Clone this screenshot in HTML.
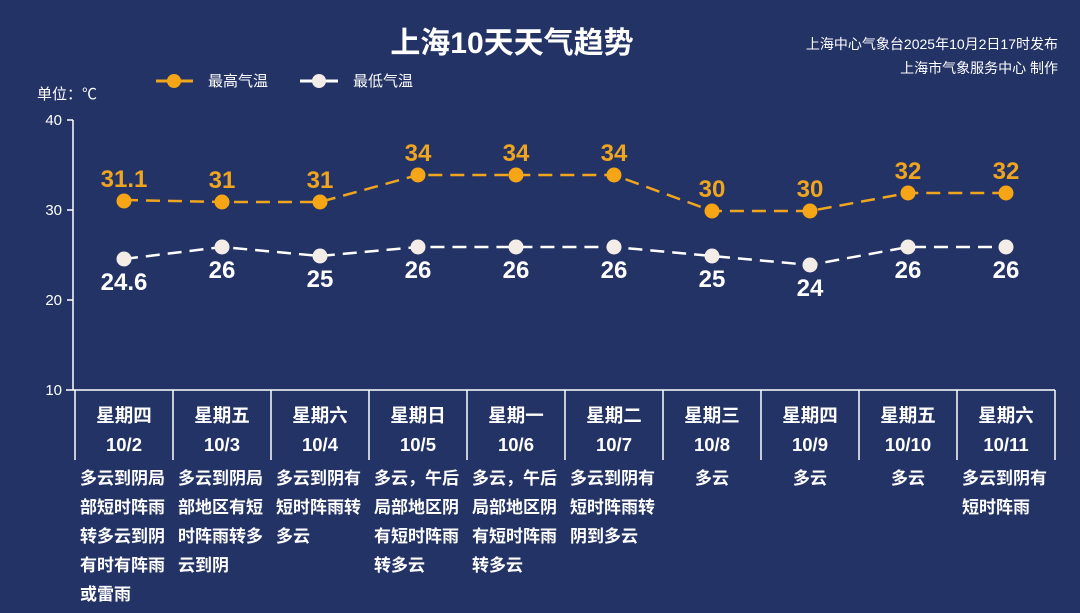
<!DOCTYPE html>
<html><head><meta charset="utf-8"><style>
html,body{margin:0;padding:0;background:#233366;}
svg{display:block;font-family:"Liberation Sans","Noto Sans CJK SC",sans-serif;}
</style></head><body>
<svg width="1080" height="613" viewBox="0 0 1080 613" xmlns="http://www.w3.org/2000/svg">
<rect width="1080" height="613" fill="#233366"/>
<text x="512" y="53" text-anchor="middle" font-size="30" font-weight="bold" fill="#fff">上海10天天气趋势</text>
<text x="1058" y="49" text-anchor="end" font-size="14" fill="#fff">上海中心气象台2025年10月2日17时发布</text>
<text x="1058" y="73" text-anchor="end" font-size="14" fill="#fff">上海市气象服务中心 制作</text>
<line x1="156" y1="81" x2="193" y2="81" stroke="#f0a51e" stroke-width="3"/><circle cx="174" cy="81" r="7" fill="#f5a516"/>
<text x="208" y="86" font-size="15" fill="#fff">最高气温</text>
<line x1="300" y1="81" x2="338" y2="81" stroke="#fff" stroke-width="3"/><circle cx="319" cy="81" r="7" fill="#f4ece6"/>
<text x="353" y="86" font-size="15" fill="#fff">最低气温</text>
<text x="37" y="99" font-size="15" fill="#fff">单位：℃</text>
<g stroke="#fff" stroke-width="1.5" fill="none">
<line x1="73" y1="120" x2="73" y2="390"/>
<line x1="67" y1="120" x2="73" y2="120"/><line x1="67" y1="210" x2="73" y2="210"/><line x1="67" y1="300" x2="73" y2="300"/>
<line x1="66" y1="390" x2="1055" y2="390"/>
<line x1="75" y1="390" x2="75" y2="460"/><line x1="173" y1="390" x2="173" y2="460"/><line x1="271" y1="390" x2="271" y2="460"/><line x1="369" y1="390" x2="369" y2="460"/><line x1="467" y1="390" x2="467" y2="460"/><line x1="565" y1="390" x2="565" y2="460"/><line x1="663" y1="390" x2="663" y2="460"/><line x1="761" y1="390" x2="761" y2="460"/><line x1="859" y1="390" x2="859" y2="460"/><line x1="957" y1="390" x2="957" y2="460"/><line x1="1055" y1="390" x2="1055" y2="460"/>
</g>
<g font-size="15" fill="#fff" text-anchor="end">
<text x="62" y="125">40</text><text x="62" y="215">30</text><text x="62" y="305">20</text><text x="62" y="395">10</text>
</g>
<polyline points="124,200 222,202 320,202 418,175 516,175 614,175 712,211 810,211 908,193 1006,193" fill="none" stroke="#f0a51e" stroke-width="2.5" stroke-dasharray="14,8"/>
<polyline points="124,259 222,247 320,256 418,247 516,247 614,247 712,256 810,265 908,247 1006,247" fill="none" stroke="#fff" stroke-width="2.5" stroke-dasharray="14,8"/>
<g fill="#f5a516">
<circle cx="124" cy="201" r="7.5"/><circle cx="222" cy="202" r="7.5"/><circle cx="320" cy="202" r="7.5"/><circle cx="418" cy="175" r="7.5"/><circle cx="516" cy="175" r="7.5"/><circle cx="614" cy="175" r="7.5"/><circle cx="712" cy="211" r="7.5"/><circle cx="810" cy="211" r="7.5"/><circle cx="908" cy="193" r="7.5"/><circle cx="1006" cy="193" r="7.5"/>
</g>
<g fill="#f4ece6">
<circle cx="124" cy="259" r="7.5"/><circle cx="222" cy="247" r="7.5"/><circle cx="320" cy="256" r="7.5"/><circle cx="418" cy="247" r="7.5"/><circle cx="516" cy="247" r="7.5"/><circle cx="614" cy="247" r="7.5"/><circle cx="712" cy="256" r="7.5"/><circle cx="810" cy="265" r="7.5"/><circle cx="908" cy="247" r="7.5"/><circle cx="1006" cy="247" r="7.5"/>
</g>
<g font-size="24" font-weight="bold" fill="#f0a51e" text-anchor="middle">
<text x="124" y="187">31.1</text><text x="222" y="188">31</text><text x="320" y="188">31</text><text x="418" y="161">34</text><text x="516" y="161">34</text><text x="614" y="161">34</text><text x="712" y="197">30</text><text x="810" y="197">30</text><text x="908" y="179">32</text><text x="1006" y="179">32</text>
</g>
<g font-size="24" font-weight="bold" fill="#fff" text-anchor="middle">
<text x="124" y="290">24.6</text><text x="222" y="278">26</text><text x="320" y="287">25</text><text x="418" y="278">26</text><text x="516" y="278">26</text><text x="614" y="278">26</text><text x="712" y="287">25</text><text x="810" y="296">24</text><text x="908" y="278">26</text><text x="1006" y="278">26</text>
</g>
<g font-size="18.5" font-weight="bold" fill="#fff" text-anchor="middle">
<text x="124" y="422">星期四</text><text x="222" y="422">星期五</text><text x="320" y="422">星期六</text><text x="418" y="422">星期日</text><text x="516" y="422">星期一</text><text x="614" y="422">星期二</text><text x="712" y="422">星期三</text><text x="810" y="422">星期四</text><text x="908" y="422">星期五</text><text x="1006" y="422">星期六</text>
<text x="124" y="451">10/2</text><text x="222" y="451">10/3</text><text x="320" y="451">10/4</text><text x="418" y="451">10/5</text><text x="516" y="451">10/6</text><text x="614" y="451">10/7</text><text x="712" y="451">10/8</text><text x="810" y="451">10/9</text><text x="908" y="451">10/10</text><text x="1006" y="451">10/11</text>
</g>
<g font-size="17" font-weight="bold" fill="#fff">
<text x="80" y="484">多云到阴局</text><text x="80" y="513">部短时阵雨</text><text x="80" y="542">转多云到阴</text><text x="80" y="571">有时有阵雨</text><text x="80" y="600">或雷雨</text>
<text x="178" y="484">多云到阴局</text><text x="178" y="513">部地区有短</text><text x="178" y="542">时阵雨转多</text><text x="178" y="571">云到阴</text>
<text x="276" y="484">多云到阴有</text><text x="276" y="513">短时阵雨转</text><text x="276" y="542">多云</text>
<text x="374" y="484">多云，午后</text><text x="374" y="513">局部地区阴</text><text x="374" y="542">有短时阵雨</text><text x="374" y="571">转多云</text>
<text x="472" y="484">多云，午后</text><text x="472" y="513">局部地区阴</text><text x="472" y="542">有短时阵雨</text><text x="472" y="571">转多云</text>
<text x="570" y="484">多云到阴有</text><text x="570" y="513">短时阵雨转</text><text x="570" y="542">阴到多云</text>
<text x="712" y="484" text-anchor="middle">多云</text>
<text x="810" y="484" text-anchor="middle">多云</text>
<text x="908" y="484" text-anchor="middle">多云</text>
<text x="962" y="484">多云到阴有</text><text x="962" y="513">短时阵雨</text>
</g>
</svg>
</body></html>
